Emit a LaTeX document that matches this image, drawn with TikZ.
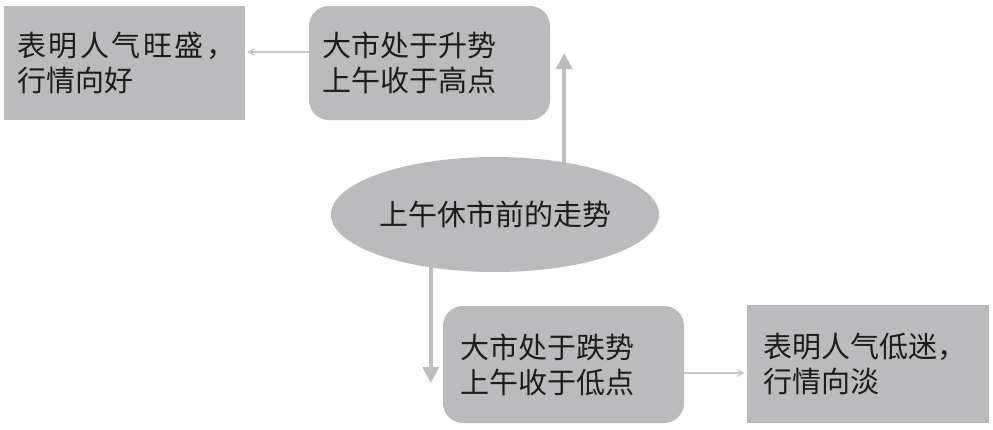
\documentclass[tikz,border=0pt]{standalone}
\usepackage{fontspec}
\setmainfont{Noto Sans CJK SC}
\usetikzlibrary{arrows.meta,shapes.geometric,backgrounds}
\definecolor{boxgray}{HTML}{BBBABC}
\definecolor{thinarrow}{HTML}{C8C8C8}
\definecolor{thickarrow}{HTML}{BDBDBD}
\definecolor{txt}{HTML}{1C1C1C}
\newcommand{\gp}{\hspace{2.6pt}}
\tikzset{
  every node/.style={font=\fontsize{29}{35}\selectfont, text=txt},
  plainbox/.style={fill=boxgray, draw=none, minimum width=241pt, minimum height=114pt,
    text width=215pt, inner xsep=13pt, align=left},
  roundbox/.style={plainbox, rounded corners=20pt},
  oval/.style={ellipse, fill=boxgray, draw=none, minimum width=326pt, minimum height=115pt, inner sep=0pt},
  thinarr/.style={draw=thinarrow, line width=1.8pt, -{Stealth[length=8pt,width=8pt,inset=3pt]}},
  thickarr/.style={draw=thickarrow, line width=4pt, -{Triangle[length=16pt,width=16pt]}}
}
\begin{document}
\begin{tikzpicture}[x=1pt,y=-1pt]
\useasboundingbox (0,0) rectangle (993,429);
\node[plainbox] (A) at (124.5,63) {\mbox{表\gp 明\gp 人\gp 气\gp 旺\gp 盛\gp ，}\\行情向好};
\node[roundbox] (B) at (429.5,63) {大市处于升势\\上午收于高点};
\node[oval] (E) at (495,214.5) {上午休市前的走势};
\node[roundbox, minimum height=117pt, text width=207pt, inner xsep=17pt] (C) at (563.5,364.5) {大市处于跌势\\上午收于低点};
\node[plainbox, minimum height=118pt, text width=210pt, inner xsep=16pt] (D) at (868,364) {表明人气低迷，\\行情向淡};
\coordinate (upTip) at ([xshift=14pt,yshift=10pt]B.east);
\coordinate (downTip) at ([xshift=-12pt,yshift=-18.5pt]C.west);
\begin{scope}[on background layer]
\draw[thickarr] (E.center -| upTip) -- (upTip);
\draw[thickarr] (E.center -| downTip) -- (downTip);
\end{scope}
\draw[thinarr, shorten >=2pt] ([yshift=11pt]B.west) -- ([yshift=11pt]A.east);
\draw[thinarr, shorten >=2pt] ([yshift=-8.5pt]C.east) -- ([yshift=-8.5pt]C.east -| D.west);
\end{tikzpicture}
\end{document}
